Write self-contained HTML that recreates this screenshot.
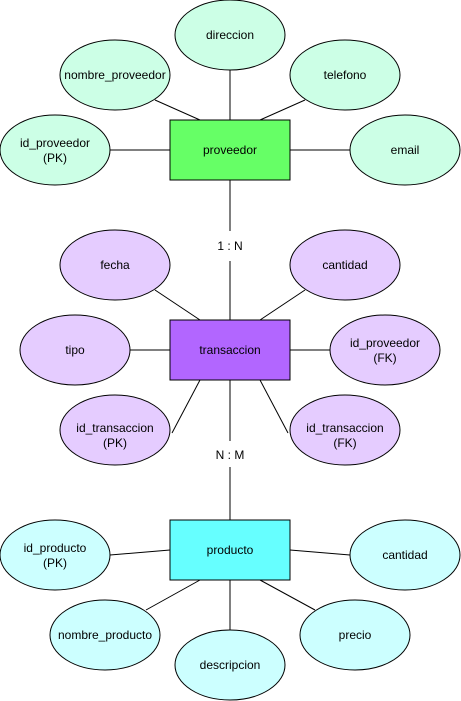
<!DOCTYPE html>
<html><head><meta charset="utf-8"><style>
html,body{margin:0;padding:0;background:#fff;}
svg{display:block;}
text{font-family:"Liberation Sans",Arial,sans-serif;font-size:12px;fill:#000;}
</style></head><body>
<svg width="461" height="701" viewBox="0 0 461 701" xmlns="http://www.w3.org/2000/svg">
<g stroke="#000" stroke-width="1" fill="none">
<!-- proveedor lines -->
<line x1="230" y1="70" x2="230" y2="120"/>
<line x1="155" y1="100" x2="200" y2="120"/>
<line x1="305" y1="100" x2="260" y2="120"/>
<line x1="110" y1="150" x2="170" y2="150"/>
<line x1="290" y1="150" x2="350" y2="150"/>
<line x1="230" y1="180" x2="230" y2="231"/>
<line x1="230" y1="261" x2="230" y2="320"/>
<!-- transaccion lines -->
<line x1="155" y1="290" x2="200" y2="320"/>
<line x1="305" y1="290" x2="260" y2="320"/>
<line x1="130" y1="350" x2="170" y2="350"/>
<line x1="290" y1="350" x2="330" y2="350"/>
<line x1="200" y1="380" x2="172" y2="433"/>
<line x1="260" y1="380" x2="288" y2="433"/>
<line x1="230" y1="380" x2="230" y2="441"/>
<line x1="230" y1="467" x2="230" y2="520"/>
<!-- producto lines -->
<line x1="110" y1="555" x2="170" y2="550"/>
<line x1="290" y1="550" x2="350" y2="555"/>
<line x1="146" y1="610" x2="200" y2="580"/>
<line x1="230" y1="580" x2="230" y2="630"/>
<line x1="260" y1="580" x2="315" y2="610"/>
</g>
<g stroke="#000" stroke-width="1">
<g fill="#ccffe6">
<ellipse cx="230" cy="35" rx="55" ry="35"/>
<ellipse cx="115" cy="75" rx="55" ry="35"/>
<ellipse cx="345" cy="75" rx="55" ry="35"/>
<ellipse cx="55" cy="150" rx="55" ry="35"/>
<ellipse cx="405" cy="150" rx="55" ry="35"/>
</g>
<rect x="170" y="120" width="120" height="60" fill="#66ff66"/>
<g fill="#e5ccff">
<ellipse cx="115" cy="265" rx="55" ry="35"/>
<ellipse cx="345" cy="265" rx="55" ry="35"/>
<ellipse cx="75" cy="350" rx="55" ry="35"/>
<ellipse cx="385" cy="350" rx="55" ry="35"/>
<ellipse cx="115" cy="430" rx="55" ry="35"/>
<ellipse cx="345" cy="430" rx="55" ry="35"/>
</g>
<rect x="170" y="320" width="120" height="60" fill="#b266ff"/>
<g fill="#ccffff">
<ellipse cx="55" cy="555" rx="55" ry="35"/>
<ellipse cx="405" cy="555" rx="55" ry="35"/>
<ellipse cx="105" cy="635" rx="55" ry="35"/>
<ellipse cx="230" cy="665" rx="55" ry="35"/>
<ellipse cx="355" cy="635" rx="55" ry="35"/>
</g>
<rect x="170" y="520" width="120" height="60" fill="#66ffff"/>
</g>
<g text-anchor="middle">
<text x="230" y="39">direccion</text>
<text x="115" y="79">nombre_proveedor</text>
<text x="345" y="79">telefono</text>
<text x="55" y="147">id_proveedor</text>
<text x="55" y="162">(PK)</text>
<text x="405" y="154">email</text>
<text x="230" y="154">proveedor</text>
<text x="230" y="250">1 : N</text>
<text x="115" y="269">fecha</text>
<text x="345" y="269">cantidad</text>
<text x="75" y="354">tipo</text>
<text x="230" y="354">transaccion</text>
<text x="385" y="347">id_proveedor</text>
<text x="385" y="362">(FK)</text>
<text x="115" y="432">id_transaccion</text>
<text x="115" y="447">(PK)</text>
<text x="345" y="432">id_transaccion</text>
<text x="345" y="447">(FK)</text>
<text x="230" y="459">N : M</text>
<text x="230" y="554">producto</text>
<text x="55" y="552">id_producto</text>
<text x="55" y="567">(PK)</text>
<text x="405" y="559">cantidad</text>
<text x="105" y="639">nombre_producto</text>
<text x="230" y="669">descripcion</text>
<text x="355" y="639">precio</text>
</g>
</svg>
</body></html>
